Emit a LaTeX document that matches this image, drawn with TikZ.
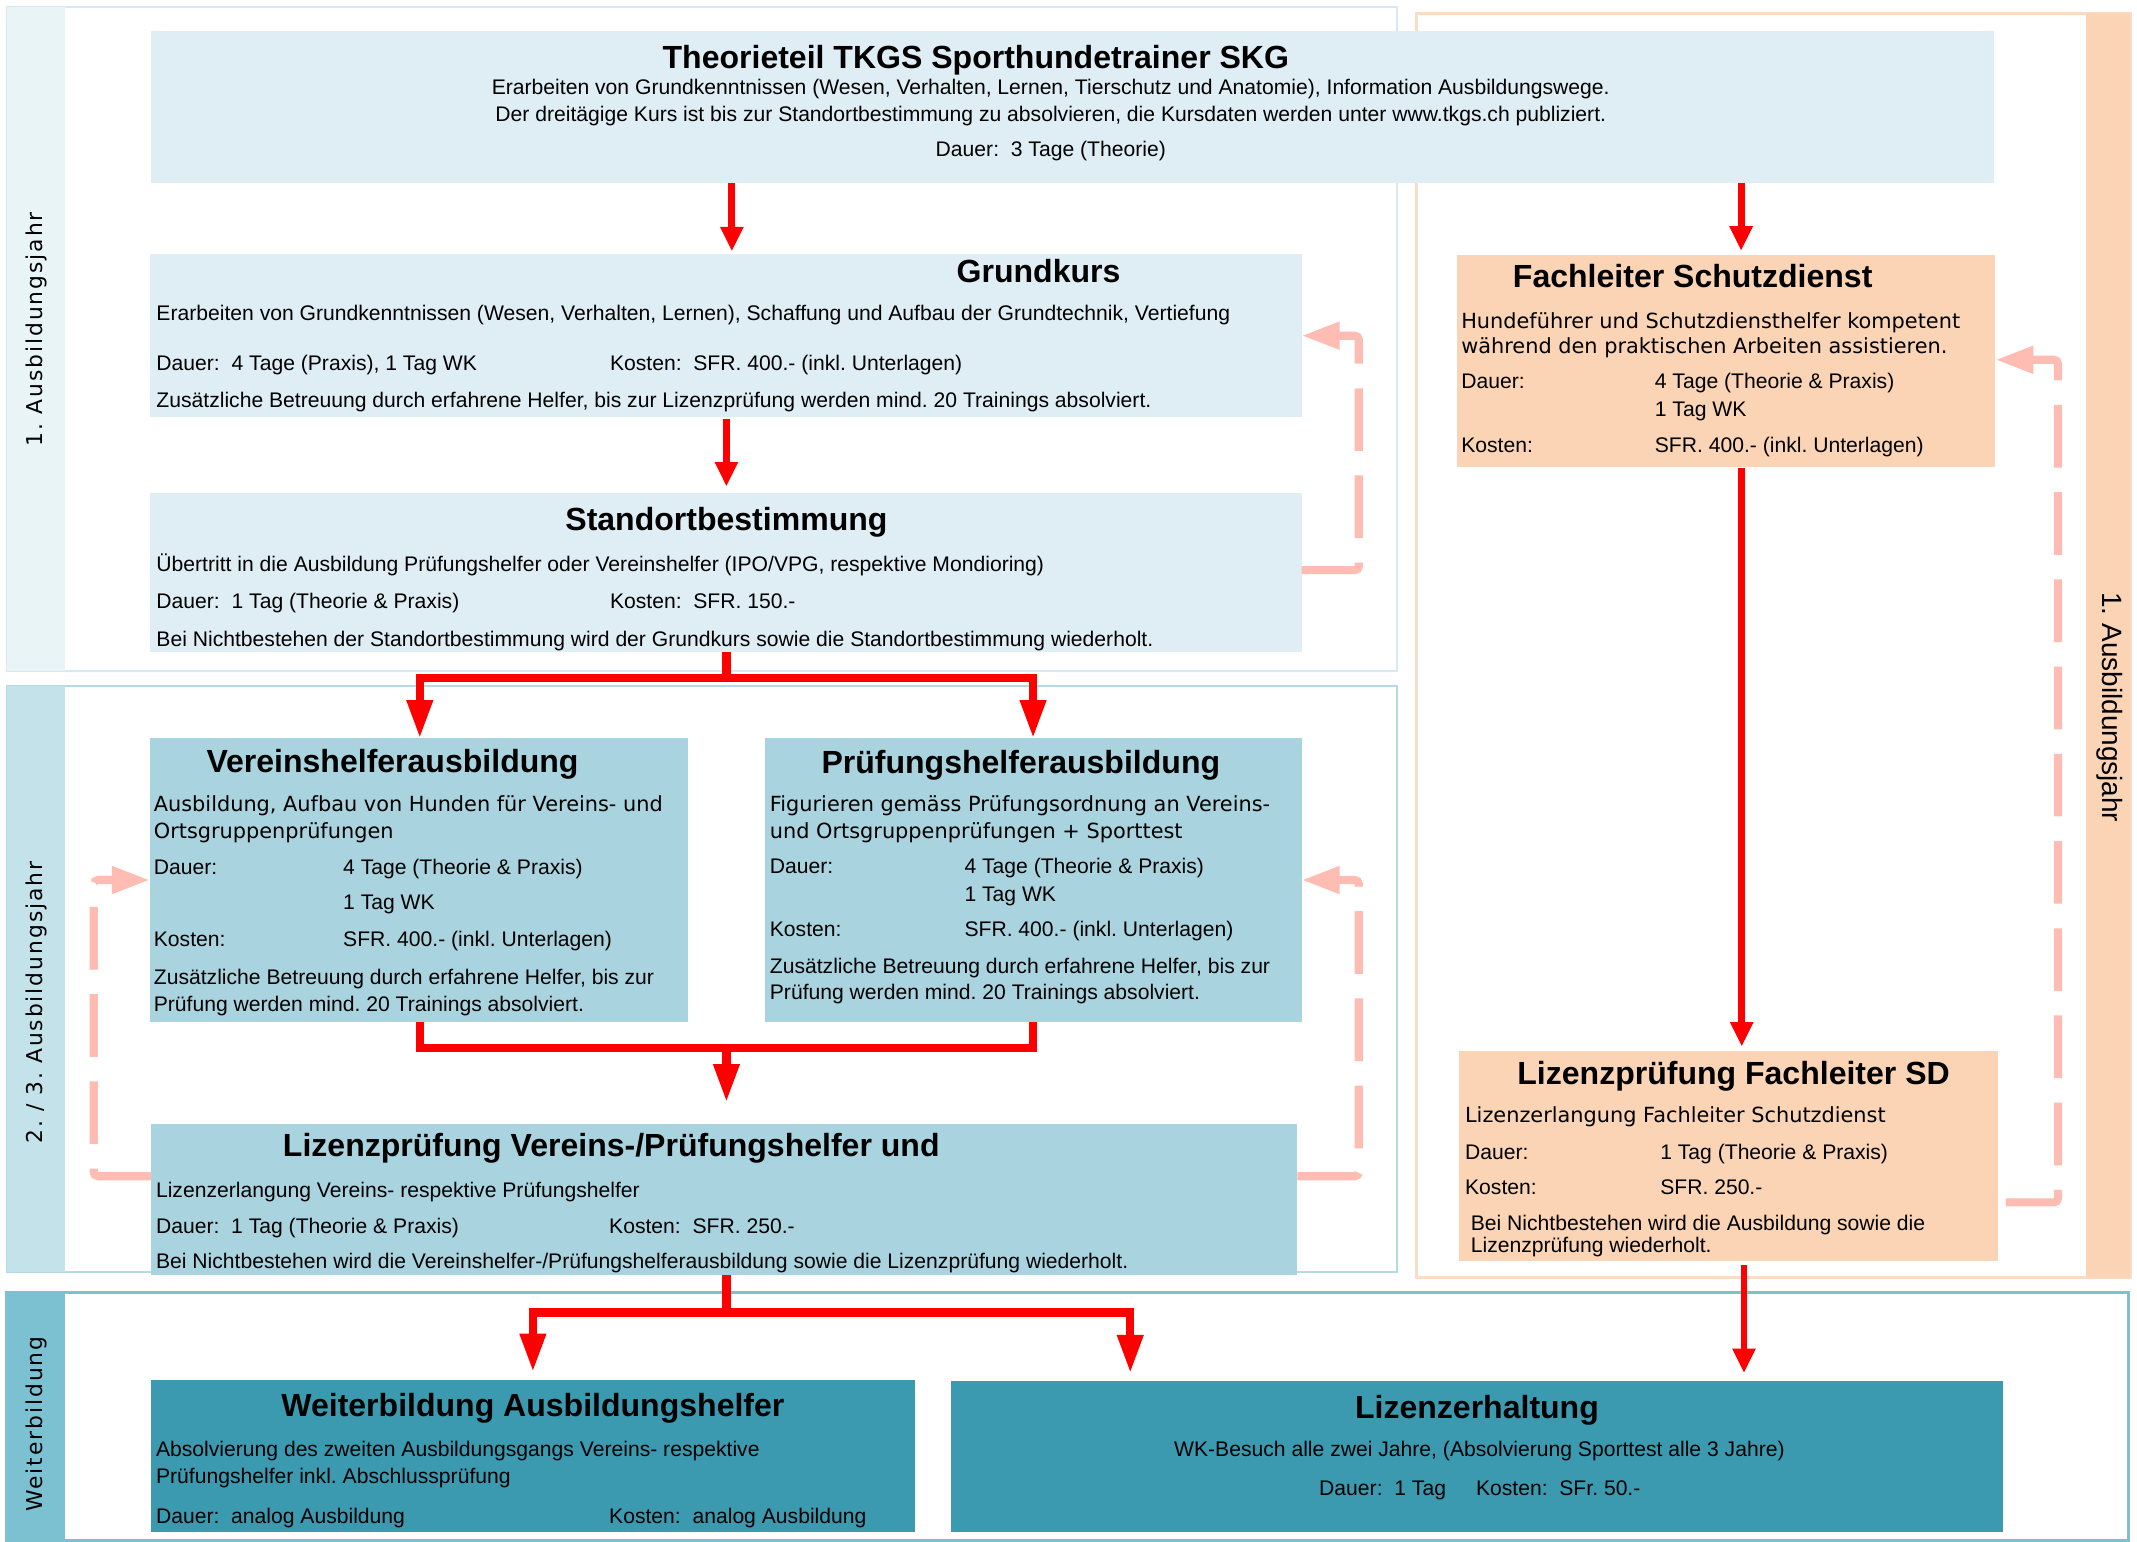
\documentclass[tikz,border=0pt]{standalone}
\usepackage{fontspec}
\setmainfont{Liberation Sans}
\newfontfamily\dvfont{DejaVu Sans}
\newfontfamily\dvsp{DejaVu Sans}[LetterSpace=9]
\usetikzlibrary{arrows.meta}
\definecolor{bA}{HTML}{DFEEF4}
\definecolor{bB}{HTML}{A9D4DF}
\definecolor{bC}{HTML}{3B9AB0}
\definecolor{sA}{HTML}{E9F4F7}
\definecolor{sB}{HTML}{C4E2EA}
\definecolor{sC}{HTML}{7BC1D1}
\definecolor{lnA}{HTML}{D6EAF1}
\definecolor{lnB}{HTML}{B5DAE4}
\definecolor{lnC}{HTML}{7DC0CF}
\definecolor{orF}{HTML}{FAD4B4}
\definecolor{orL}{HTML}{FBDCC4}
\definecolor{pk}{HTML}{FFBCB2}
\frenchspacing
\begin{document}
\frenchspacing
\begin{tikzpicture}[x=1pt,y=-1pt,
  box/.style={draw=none, anchor=north west, inner sep=0pt, outer sep=0pt},
  band/.style={anchor=north west, inner sep=0pt, outer sep=0pt, fill=white},
  ttl/.style={font=\fontsize{23.5}{28}\selectfont\bfseries, inner sep=0pt, anchor=base},
  bw/.style={font=\fontsize{15.5}{19}\selectfont, inner sep=0pt, anchor=base west},
  bc/.style={font=\fontsize{15.5}{19}\selectfont, inner sep=0pt, anchor=base},
  wide/.style={font=\dvfont\fontsize{15.3}{19}\selectfont, inner sep=0pt, anchor=base west},
  striplab/.style={font=\dvsp\fontsize{16}{16}\selectfont, inner sep=0pt, rotate=90},
  redarr/.style={draw=red, line width=5pt, -{Triangle[length=18pt,width=16pt]}},
  redel/.style={draw=red, line width=6pt, line join=miter},
  redelarr/.style={draw=red, line width=6pt, line join=miter, -{Triangle[length=28pt,width=18pt]}},
  pkarr/.style={draw=pk, line width=6pt, dash pattern=on 46pt off 18pt, rounded corners=3pt, -{Triangle[length=28pt,width=19pt]}}
]
\useasboundingbox (0,0) rectangle (1568,1131);
\fill[white] (0,0) rectangle (1568,1131);

% ---------- bands ----------
\node[band, draw=lnA, line width=1.5pt, minimum width=1020pt, minimum height=486.6pt] (band1) at (5,5.4) {};
\node[box, fill=sA, minimum width=43pt, minimum height=486.6pt] (strip1) at (5,5.4) {};
\node[band, draw=lnB, line width=1.5pt, minimum width=1020pt, minimum height=430.5pt] (band2) at (5,503) {};
\node[box, fill=sB, minimum width=43pt, minimum height=430.5pt] (strip2) at (5,503) {};
\node[band, draw=lnC, line width=2pt, minimum width=1557pt, minimum height=182.2pt] (band3) at (5,948.3) {};
\node[box, fill=sC, minimum width=43pt, minimum height=182.2pt] (strip3) at (5,948.3) {};
\node[band, draw=orL, line width=2pt, minimum width=523.5pt, minimum height=927.7pt] (band4) at (1039.5,9.8) {};
\node[box, fill=orF, minimum width=32.3pt, minimum height=927.7pt] (strip4) at (1530.7,9.8) {};

\node[striplab] (lab1) at (27,241.5) {1. Ausbildungsjahr};
\node[striplab] (lab2) at (27,735.5) {2. / 3. Ausbildungsjahr};
\node[striplab] (lab3) at (27,1045) {Weiterbildung};
\node[font=\fontsize{20.5}{21}\selectfont, inner sep=0pt, rotate=-90] (lab4) at (1548,519) {1. Ausbildungsjahr};

% ---------- boxes ----------
\node[box, fill=bA, minimum width=1352.3pt, minimum height=111.3pt] (theo) at (110.7,22.7) {};
\node[box, fill=bA, minimum width=845pt, minimum height=119.3pt] (grund) at (110,186.4) {};
\node[box, fill=bA, minimum width=845pt, minimum height=116.2pt] (stand) at (110,362) {};
\node[box, fill=bB, minimum width=395pt, minimum height=208.3pt] (verein) at (110,541.7) {};
\node[box, fill=bB, minimum width=394pt, minimum height=208.3pt] (pruef) at (561,541.7) {};
\node[box, fill=bB, minimum width=841.3pt, minimum height=110.8pt] (lvp) at (110.7,824.7) {};
\node[box, fill=bC, minimum width=561pt, minimum height=111.3pt] (wa) at (110.7,1012.6) {};
\node[box, fill=bC, minimum width=771.5pt, minimum height=111.3pt] (le) at (698,1013) {};
\node[box, fill=orF, minimum width=395pt, minimum height=155.4pt] (fl) at (1069,187) {};
\node[box, fill=orF, minimum width=395pt, minimum height=154.6pt] (lfl) at (1070.7,770.9) {};

% ---------- helper coordinates ----------
\coordinate (xa) at (537,0);
\coordinate (xb) at (1277.5,0);
\coordinate (xc) at (533,0);
\coordinate (xv) at (308,0);
\coordinate (xp) at (758,0);
\coordinate (xw) at (391,0);
\coordinate (xl) at (829.3,0);
\coordinate (xf) at (1278,0);
\coordinate (xg) at (1279.6,0);
\coordinate (ys1) at (0,497.5);
\coordinate (ys2) at (0,769);
\coordinate (ys3) at (0,963);
\coordinate (xr1) at (997,0);
\coordinate (xl1) at (68.8,0);
\coordinate (xr2) at (1510,0);
\coordinate (yp1) at (0,418.3);
\coordinate (yp1b) at (0,246.3);
\coordinate (yp2) at (0,863);
\coordinate (yp2b) at (0,645.7);
\coordinate (yp4) at (0,882.2);
\coordinate (yp4b) at (0,264);

% ---------- red connectors ----------
\draw[redarr, shorten >=2pt] (theo.south -| xa) -- (grund.north -| xa);
\draw[redarr, shorten >=3pt] (theo.south -| xb) -- (fl.north -| xb);
\draw[redarr, shorten <=2pt, shorten >=5pt] (grund.south -| xc) -- (stand.north -| xc);
\draw[redelarr] (stand.south -| xc) -- (ys1 -| xc) -- (ys1 -| xv) -- (verein.north -| xv);
\draw[redelarr] (ys1 -| xc) -- (ys1 -| xp) -- (pruef.north -| xp);
\draw[redel] (verein.south -| xv) -- (ys2 -| xv) -- (ys2 -| xp) -- (pruef.south -| xp);
\draw[redelarr, shorten >=16pt] (ys2 -| xc) -- (lvp.north -| xc);
\draw[redelarr, shorten >=6pt] (lvp.south -| xc) -- (ys3 -| xc) -- (ys3 -| xw) -- (wa.north -| xw);
\draw[redelarr, shorten >=5.5pt] (ys3 -| xc) -- (ys3 -| xl) -- (le.north -| xl);
\draw[redarr, shorten <=1pt, shorten >=3pt] (fl.south -| xf) -- (lfl.north -| xf);
\draw[redarr, shorten <=3pt, shorten >=5.5pt] (lfl.south -| xg) -- (le.north -| xg);

% ---------- pink dashed connectors ----------
\draw[pkarr] (stand.east |- yp1) -- (xr1 |- yp1) -- (xr1 |- yp1b) -- (grund.east |- yp1b);
\draw[pkarr] (lvp.east |- yp2) -- (xr1 |- yp2) -- (xr1 |- yp2b) -- (pruef.east |- yp2b);
\draw[pkarr] (lvp.west |- yp2) -- (xl1 |- yp2) -- (xl1 |- yp2b) -- (verein.west |- yp2b);
\draw[pkarr, shorten <=6pt] (lfl.east |- yp4) -- (xr2 |- yp4) -- (xr2 |- yp4b) -- (fl.east |- yp4b);

% ---------- texts ----------
\node[ttl] (t01) at (716,50) {Theorieteil TKGS Sporthundetrainer SKG};
\node[bc] (t02) at (771,69.7) {Erarbeiten von Grundkenntnissen (Wesen, Verhalten, Lernen, Tierschutz und Anatomie), Information Ausbildungswege.};
\node[bc] (t03) at (771,89.3) {Der dreitägige Kurs ist bis zur Standortbestimmung zu absolvieren, die Kursdaten werden unter www.tkgs.ch publiziert.};
\node[bc] (t04) at (771,115) {Dauer:\ \ 3 Tage (Theorie)};

\node[ttl] (t05) at (762,207.4) {Grundkurs};
\node[bw] (t06) at (114.6,234.8) {Erarbeiten von Grundkenntnissen (Wesen, Verhalten, Lernen), Schaffung und Aufbau der Grundtechnik, Vertiefung};
\node[bw] (t07) at (114.6,271.5) {Dauer:\ \ 4 Tage (Praxis), 1 Tag WK};
\node[bw] (t08) at (447.4,271.5) {Kosten:\ \ SFR. 400.- (inkl. Unterlagen)};
\node[bw] (t09) at (114.6,299.1) {Zusätzliche Betreuung durch erfahrene Helfer, bis zur Lizenzprüfung werden mind. 20 Trainings absolviert.};

\node[ttl] (t10) at (533,389) {Standortbestimmung};
\node[bw] (t11) at (114.6,419.5) {Übertritt in die Ausbildung Prüfungshelfer oder Vereinshelfer (IPO/VPG, respektive Mondioring)};
\node[bw] (t12) at (114.6,446.4) {Dauer:\ \ 1 Tag (Theorie \& Praxis)};
\node[bw] (t13) at (447.4,446.4) {Kosten:\ \ SFR. 150.-};
\node[bw] (t14) at (114.6,474) {Bei Nichtbestehen der Standortbestimmung wird der Grundkurs sowie die Standortbestimmung wiederholt.};

\node[ttl] (t15) at (288,567) {Vereinshelferausbildung};
\node[wide] (t16) at (112.7,595.5) {Ausbildung, Aufbau von Hunden für Vereins- und};
\node[wide] (t17) at (112.7,615) {Ortsgruppenprüfungen};
\node[bw] (t18) at (112.7,642) {Dauer:};
\node[bw] (t19) at (251.6,642) {4 Tage (Theorie \& Praxis)};
\node[bw] (t20) at (251.6,667) {1 Tag WK};
\node[bw] (t21) at (112.7,694.6) {Kosten:};
\node[bw] (t22) at (251.6,694.6) {SFR. 400.- (inkl. Unterlagen)};
\node[bw] (t23) at (112.7,722) {Zusätzliche Betreuung durch erfahrene Helfer, bis zur};
\node[bw] (t24) at (112.7,742) {Prüfung werden mind. 20 Trainings absolviert.};

\node[ttl] (t25) at (749,567.5) {Prüfungshelferausbildung};
\node[wide] (t26) at (564.7,595.5) {Figurieren gemäss Prüfungsordnung an Vereins-};
\node[wide] (t27) at (564.7,615) {und Ortsgruppenprüfungen + Sporttest};
\node[bw] (t28) at (564.7,641) {Dauer:};
\node[bw] (t29) at (707.5,641) {4 Tage (Theorie \& Praxis)};
\node[bw] (t30) at (707.5,661.5) {1 Tag WK};
\node[bw] (t31) at (564.7,687) {Kosten:};
\node[bw] (t32) at (707.5,687) {SFR. 400.- (inkl. Unterlagen)};
\node[bw] (t33) at (564.7,714) {Zusätzliche Betreuung durch erfahrene Helfer, bis zur};
\node[bw] (t34) at (564.7,733.7) {Prüfung werden mind. 20 Trainings absolviert.};

\node[ttl] (t35) at (448.5,848.7) {Lizenzprüfung Vereins-/Prüfungshelfer und};
\node[bw] (t36) at (114.3,879) {Lizenzerlangung Vereins- respektive Prüfungshelfer};
\node[bw] (t37) at (114.3,905) {Dauer:\ \ 1 Tag (Theorie \& Praxis)};
\node[bw] (t38) at (446.8,905) {Kosten:\ \ SFR. 250.-};
\node[bw] (t39) at (114.3,930.6) {Bei Nichtbestehen wird die Vereinshelfer-/Prüfungshelferausbildung sowie die Lizenzprüfung wiederholt.};

\node[ttl] (t40) at (391,1039.5) {Weiterbildung Ausbildungshelfer};
\node[bw] (t41) at (114.3,1068.8) {Absolvierung des zweiten Ausbildungsgangs Vereins- respektive};
\node[bw] (t42) at (114.3,1088.4) {Prüfungshelfer inkl. Abschlussprüfung};
\node[bw] (t43) at (114.3,1117.7) {Dauer:\ \ analog Ausbildung};
\node[bw] (t44) at (446.8,1117.7) {Kosten:\ \ analog Ausbildung};

\node[ttl] (t45) at (1083.7,1040.6) {Lizenzerhaltung};
\node[bc] (t46) at (1085.5,1068.7) {WK-Besuch alle zwei Jahre, (Absolvierung Sporttest alle 3 Jahre)};
\node[bc] (t47) at (1085.8,1097) {Dauer:\ \ 1 Tag\hspace{22pt}Kosten:\ \ SFr. 50.-};

\node[ttl] (t48) at (1242,210.8) {Fachleiter Schutzdienst};
\node[wide] (t49) at (1072,241) {Hundeführer und Schutzdiensthelfer kompetent};
\node[wide] (t50) at (1072,259.3) {während den praktischen Arbeiten assistieren.};
\node[bw] (t51) at (1072,285) {Dauer:};
\node[bw] (t52) at (1214,285) {4 Tage (Theorie \& Praxis)};
\node[bw] (t53) at (1214,305.8) {1 Tag WK};
\node[bw] (t54) at (1072,332) {Kosten:};
\node[bw] (t55) at (1214,332) {SFR. 400.- (inkl. Unterlagen)};

\node[ttl] (t56) at (1272,795.5) {Lizenzprüfung Fachleiter SD};
\node[wide] (t57) at (1074.8,823.4) {Lizenzerlangung Fachleiter Schutzdienst};
\node[bw] (t58) at (1074.8,850.4) {Dauer:};
\node[bw] (t59) at (1218,850.4) {1 Tag (Theorie \& Praxis)};
\node[bw] (t60) at (1074.8,876.2) {Kosten:};
\node[bw] (t61) at (1218,876.2) {SFR. 250.-};
\node[bw] (t62) at (1079,903) {Bei Nichtbestehen wird die Ausbildung sowie die};
\node[bw] (t63) at (1079,918.8) {Lizenzprüfung wiederholt.};
\end{tikzpicture}
\end{document}
